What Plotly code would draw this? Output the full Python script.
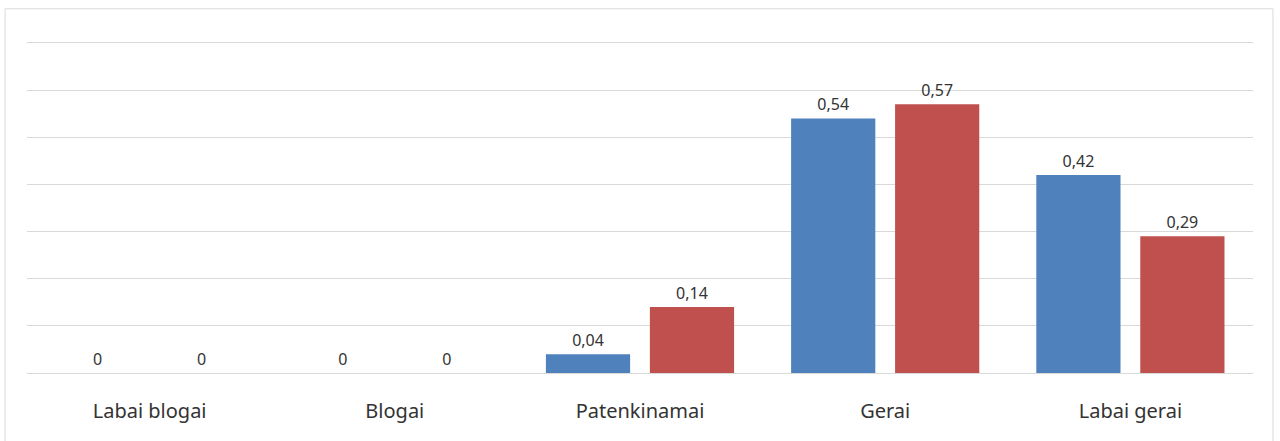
import plotly.graph_objects as go

categories = ["Labai blogai", "Blogai", "Patenkinamai", "Gerai", "Labai gerai"]
series_a = [0, 0, 0.04, 0.54, 0.42]
series_b = [0, 0, 0.14, 0.57, 0.29]

def fmt(v):
    return ("%g" % v).replace(".", ",")

fig = go.Figure()
for vals, color in [(series_a, "#4F81BD"), (series_b, "#C0504D")]:
    fig.add_trace(go.Bar(
        x=categories, y=vals, marker=dict(color=color, line=dict(width=0)),
        text=[fmt(v) for v in vals], textposition="outside", cliponaxis=False,
        textfont=dict(size=16, color="#333333", family="Noto Sans"),
        textangle=0, hoverinfo="skip",
    ))

fig.update_layout(
    width=1280, height=441,
    margin=dict(l=27, r=27, t=41, b=68),
    paper_bgcolor="white", plot_bgcolor="white",
    showlegend=False,
    bargap=0.152, bargroupgap=0.19,
    font=dict(family="Noto Sans", color="#333333"),
    xaxis=dict(showgrid=False, showline=False, tickfont=dict(size=20, color="#333333"),
               ticklabelstandoff=24),
    yaxis=dict(range=[0, 0.7042], tickvals=[0.1, 0.2, 0.3, 0.4, 0.5, 0.6, 0.7],
               showgrid=True, gridcolor="#D9D9D9", gridwidth=1,
               showticklabels=False, zeroline=True, zerolinecolor="#D9D9D9", zerolinewidth=1),
    shapes=[dict(type="rect", xref="paper", yref="paper",
                 x0=-0.0179, x1=1.0163, y0=-0.25, y1=1.097,
                 line=dict(color="#D9D9D9", width=1), fillcolor="rgba(0,0,0,0)")],
)
fig.write_html("out.html", config={"displayModeBar": False},
               post_script="document.body.style.margin='0';document.body.style.overflow='hidden';")
